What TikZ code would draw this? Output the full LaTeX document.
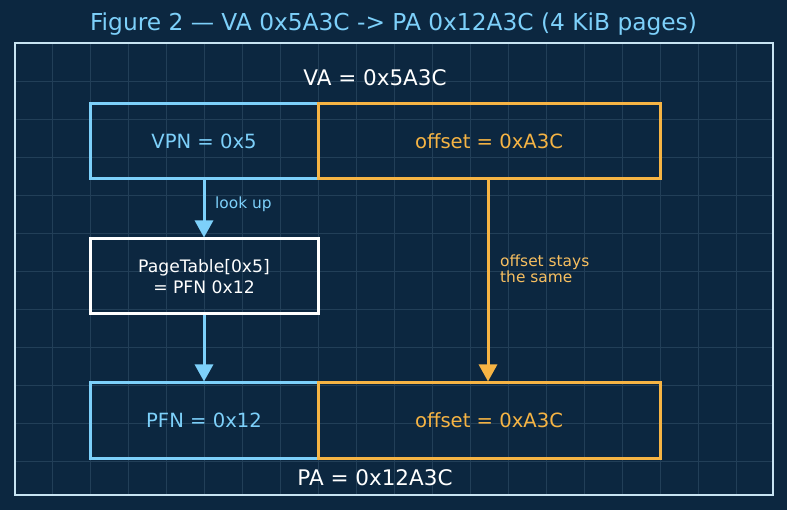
\documentclass[tikz,border=0pt]{standalone}
\usepackage{fontspec}
\setmainfont{DejaVu Sans}
\usetikzlibrary{arrows.meta}
\definecolor{bgc}{RGB}{12,39,64}
\definecolor{gridc}{RGB}{34,63,88}
\definecolor{bluec}{RGB}{125,208,250}
\definecolor{orangec}{RGB}{246,180,68}
\definecolor{framec}{RGB}{200,228,242}
\begin{document}
\begin{tikzpicture}[x=1pt,y=-1pt,
  field/.style={draw, line width=3pt, minimum height=75pt, inner sep=0pt},
  bluefield/.style={field, draw=bluec, text=bluec, minimum width=228pt, font=\fontsize{19.6}{22}\selectfont},
  orangefield/.style={field, draw=orangec, text=orangec, minimum width=342pt, font=\fontsize{19.6}{22}\selectfont},
  tablebox/.style={field, draw=white, text=white, minimum width=228pt, align=center, font=\fontsize{17.2}{21}\selectfont},
  flow/.style={line width=3pt, -{Triangle[length=17pt,width=18pt]}},
  note/.style={anchor=west, inner sep=0pt, align=left, font=\fontsize{15.4}{16.5}\selectfont},
  biglabel/.style={text=white, inner sep=0pt, font=\fontsize{21.5}{24}\selectfont}]
\useasboundingbox (0,0) rectangle (787,510);
\fill[bgc] (0,0) rectangle (787,510);
\begin{scope}
\clip (14.5,43.5) rectangle (773,495);
\foreach \i in {1,...,19} \draw[gridc, line width=0.9pt] (14.5+38*\i,43) -- (14.5+38*\i,495);
\foreach \j in {1,...,11} \draw[gridc, line width=0.9pt] (14,43.5+38*\j) -- (773,43.5+38*\j);
\end{scope}
\draw[framec, line width=2pt] (14.5,43.5) rectangle (773,495);
\node[text=bluec, font=\fontsize{23.3}{26}\selectfont, inner sep=0pt] (title) at (393.5,24) {Figure 2 — VA 0x5A3C -> PA 0x12A3C (4 KiB pages)};
\node[biglabel] (va) at (375,78) {VA = 0x5A3C};
\node[bluefield] (vpn) at (204,141.5) {VPN = 0x5};
\node[orangefield] (offa) at (489,141.5) {offset = 0xA3C};
\node[tablebox] (pt) at (204,276.5) {PageTable[0x5]\\= PFN 0x12};
\node[bluefield] (pfn) at (204,420.5) {PFN = 0x12};
\node[orangefield] (offb) at (489,420.5) {offset = 0xA3C};
\node[biglabel] (pa) at (375,478) {PA = 0x12A3C};
\draw[flow, bluec] (vpn.south) -- (pt.north);
\draw[flow, bluec] (pt.south) -- (pfn.north);
\draw[flow, orangec] ([xshift=-1pt]offa.south) -- ([xshift=-1pt]offb.north);
\node[note, text=orangec!85!white] (stays) at (500,269) {offset stays\\the same};
\node[note, text=bluec] (lookup) at (215,204) {look up};
\end{tikzpicture}
\end{document}
